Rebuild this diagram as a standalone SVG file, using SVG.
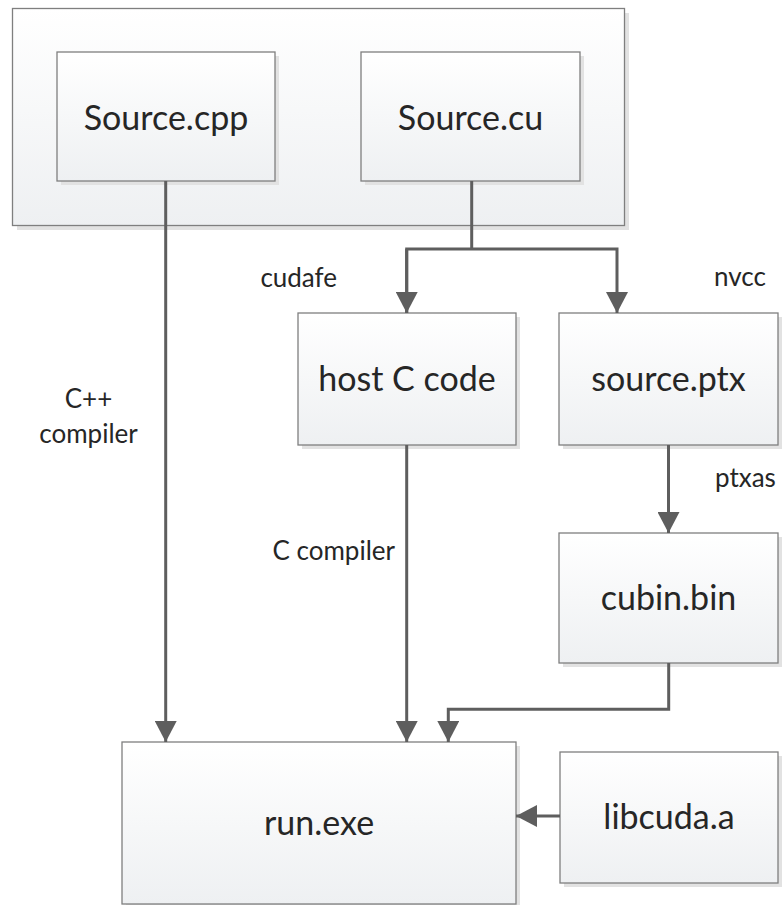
<svg xmlns="http://www.w3.org/2000/svg" width="782" height="905" viewBox="0 0 782 905">
  <defs>
    <linearGradient id="boxFill" x1="0" y1="0" x2="0" y2="1">
      <stop offset="0" stop-color="#ffffff"/>
      <stop offset="1" stop-color="#eef0f2"/>
    </linearGradient>
    <marker id="arrow" markerUnits="userSpaceOnUse" markerWidth="22" markerHeight="22" refX="21" refY="11" orient="auto" viewBox="0 0 22 22">
      <path d="M0,0 L21,11 L0,22 Z" fill="#5e5e5e"/>
    </marker>
    <style>
      .shadow { fill: #e2e2e2; }
      .box { fill: url(#boxFill); stroke: #7f7f7f; stroke-width: 1.3; }
      .label { font-family: Lato, "Liberation Sans", sans-serif; font-size: 34px; fill: #262626; text-anchor: middle; }
      .note { font-family: Lato, "Liberation Sans", sans-serif; font-size: 26px; fill: #262626; }
      .wire { fill: none; stroke: #5e5e5e; stroke-width: 3; }
    </style>
  </defs>

  <rect width="782" height="905" fill="#ffffff"/>

  <!-- outer group holding both source files -->
  <g id="sources">
    <rect class="shadow" x="17" y="13" width="612" height="217"/>
    <rect class="box" x="12.5" y="8.5" width="612" height="217"/>
  </g>

  <g id="source-cpp">
    <rect class="shadow" x="61" y="56" width="218" height="129"/>
    <rect class="box" x="57" y="52" width="218" height="129"/>
    <text class="label" x="166" y="130">Source.cpp</text>
  </g>

  <g id="source-cu">
    <rect class="shadow" x="365" y="56" width="219" height="129"/>
    <rect class="box" x="361" y="52" width="219" height="129"/>
    <text class="label" x="470.5" y="130">Source.cu</text>
  </g>

  <g id="host-c-code">
    <rect class="shadow" x="302" y="317" width="218" height="132"/>
    <rect class="box" x="298" y="313" width="218" height="132"/>
    <text class="label" x="407" y="391">host C code</text>
  </g>

  <g id="source-ptx">
    <rect class="shadow" x="563" y="317" width="219" height="132"/>
    <rect class="box" x="559" y="313" width="219" height="132"/>
    <text class="label" x="668.5" y="391">source.ptx</text>
  </g>

  <g id="cubin-bin">
    <rect class="shadow" x="563" y="537" width="219" height="130"/>
    <rect class="box" x="559" y="533" width="219" height="130"/>
    <text class="label" x="668.5" y="610">cubin.bin</text>
  </g>

  <g id="run-exe">
    <rect class="shadow" x="126" y="746" width="394" height="162"/>
    <rect class="box" x="122" y="742" width="394" height="162"/>
    <text class="label" x="319" y="835">run.exe</text>
  </g>

  <g id="libcuda-a">
    <rect class="shadow" x="564" y="756" width="218" height="131"/>
    <rect class="box" x="560" y="752" width="218" height="131"/>
    <text class="label" x="669" y="829">libcuda.a</text>
  </g>

  <!-- connectors -->
  <g id="connectors">
    <path class="wire" d="M165.7,181 V742" marker-end="url(#arrow)"/>
    <path class="wire" d="M471.7,181 V249"/>
    <path class="wire" d="M406.7,313 V249 H617 V313" marker-end="url(#arrow)"/>
    <path class="wire" d="M406.7,249 V313" marker-end="url(#arrow)"/>
    <path class="wire" d="M406.7,445 V742" marker-end="url(#arrow)"/>
    <path class="wire" d="M668.5,445 V533" marker-end="url(#arrow)"/>
    <path class="wire" d="M668.7,663 V709.3 H448.3 V742" marker-end="url(#arrow)"/>
    <path class="wire" d="M560,816 H516" marker-end="url(#arrow)"/>
  </g>

  <!-- connector labels -->
  <g id="labels">
    <text class="note" x="337" y="287" text-anchor="end">cudafe</text>
    <text class="note" x="714" y="286">nvcc</text>
    <text class="note" x="88.5" y="408" text-anchor="middle">C++</text>
    <text class="note" x="88.5" y="443" text-anchor="middle">compiler</text>
    <text class="note" x="395" y="560" text-anchor="end">C compiler</text>
    <text class="note" x="715" y="487">ptxas</text>
  </g>
</svg>
